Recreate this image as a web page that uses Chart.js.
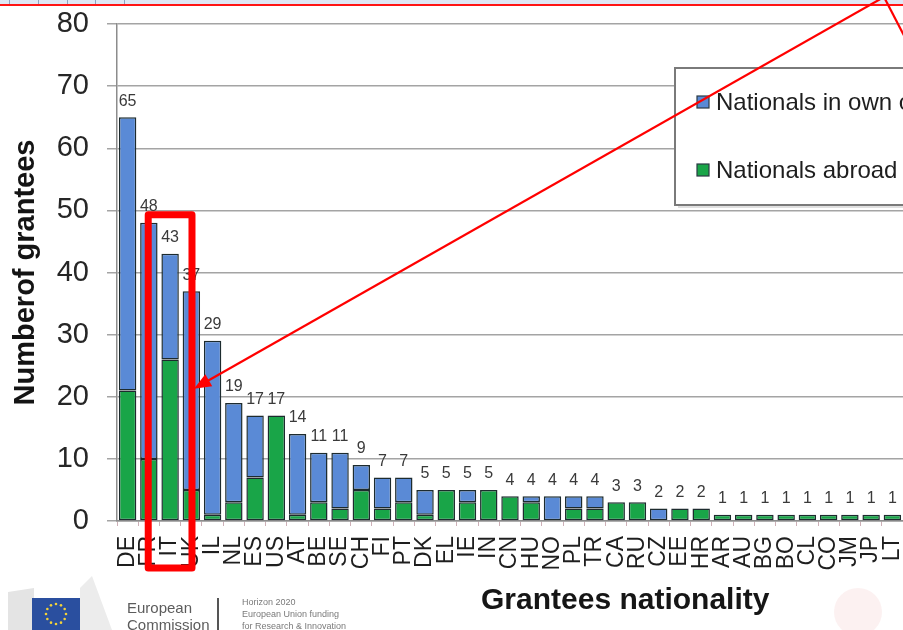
<!DOCTYPE html>
<html>
<head>
<meta charset="utf-8">
<script src="https://cdn.jsdelivr.net/npm/chart.js@4"></script>
<style>
  html, body { margin: 0; padding: 0; background: #ffffff; overflow: hidden; }
  #wrap { position: relative; width: 903px; height: 630px; }
</style>
</head>
<body>
<div id="wrap"><canvas id="chart" width="903" height="630"></canvas></div>
<script>
// Grantees per nationality, split by where they hold the grant
const countries = ['DE','FR','IT','UK','IL','NL','ES','US','AT','BE','SE','CH','FI','PT','DK','EL','IE','IN','CN','HU','NO','PL','TR','CA','RU','CZ','EE','HR','AR','AU','BG','BO','CL','CO','JM','JP','LT'];
const nationalsAbroad = [21,10,26,5,1,3,7,17,1,3,2,5,2,3,1,5,3,5,4,3,0,2,2,3,3,0,2,2,1,1,1,1,1,1,1,1,1];
const nationalsOwnCountry = [44,38,17,32,28,16,10,0,13,8,9,4,5,4,4,0,2,0,0,1,4,2,2,0,0,2,0,0,0,0,0,0,0,0,0,0,0];
const yTicks = [0,10,20,30,40,50,60,70,80];
const seriesOwn = 'Nationals in own country';
const seriesAbroad = 'Nationals abroad';
const highlighted = 'IT';

const FONT = "'Liberation Sans', Arial, Helvetica, sans-serif";
const BLUE = '#5a8ad6';
const GREEN = '#19a548';
const EDGE = '#1d2b2e';

// Total per country, printed above each stacked column
const totalsPlugin = {
  id: 'totals',
  afterDatasetsDraw(chart) {
    const ctx = chart.ctx, x = chart.scales.x, y = chart.scales.y;
    ctx.save();
    ctx.font = '16px ' + FONT;
    ctx.fillStyle = '#3a3a3a';
    ctx.textAlign = 'center';
    ctx.textBaseline = 'bottom';
    countries.forEach((c, i) => {
      const total = nationalsAbroad[i] + nationalsOwnCountry[i];
      ctx.fillText(String(total), x.getPixelForValue(i), y.getPixelForValue(total) - 8);
    });
    ctx.restore();
  }
};

// Boxed legend, axis title, footer branding and the red call-out
const decorPlugin = {
  id: 'decor',
  afterDraw(chart) {
    const ctx = chart.ctx, ca = chart.chartArea, x = chart.scales.x, y = chart.scales.y;
    ctx.save();

    // legend box inside the plot
    const lx = ca.left + 558, ly = ca.top + 44, lw = 330, lh = 137;
    ctx.fillStyle = 'rgba(0,0,0,0.12)';
    ctx.fillRect(lx + 3, ly + 3, lw, lh);
    ctx.fillStyle = '#ffffff';
    ctx.fillRect(lx, ly, lw, lh);
    ctx.strokeStyle = '#7a7a7a';
    ctx.lineWidth = 2;
    ctx.strokeRect(lx, ly, lw, lh);
    const items = [[seriesOwn, BLUE], [seriesAbroad, GREEN]];
    ctx.font = '24px ' + FONT;
    ctx.textBaseline = 'middle';
    ctx.textAlign = 'left';
    items.forEach((it, k) => {
      const cy = ly + 34 + k * 68;
      ctx.fillStyle = it[1];
      ctx.fillRect(lx + 22, cy - 6, 12, 12);
      ctx.strokeStyle = '#2a3a44';
      ctx.lineWidth = 1.2;
      ctx.strokeRect(lx + 22, cy - 6, 12, 12);
      ctx.fillStyle = '#1e1e1e';
      ctx.fillText(it[0], lx + 41, cy + 1);
    });

    // x-axis title
    ctx.font = 'bold 30px ' + FONT;
    ctx.fillStyle = '#161616';
    ctx.textBaseline = 'alphabetic';
    ctx.fillText('Grantees nationality', ca.left + 364, 609);

    // footer: building, flag and programme text
    ctx.fillStyle = '#e4e4e4';
    ctx.beginPath();
    ctx.moveTo(8, 630); ctx.lineTo(8, 592); ctx.lineTo(34, 588); ctx.lineTo(34, 630); ctx.closePath();
    ctx.fill();
    ctx.fillStyle = '#ececec';
    ctx.beginPath();
    ctx.moveTo(80, 630); ctx.lineTo(80, 588); ctx.lineTo(92, 576); ctx.lineTo(112, 630); ctx.closePath();
    ctx.fill();
    ctx.fillStyle = '#2a4f9f';
    ctx.fillRect(32, 598, 48, 32);
    ctx.fillStyle = '#f2d23a';
    for (let s = 0; s < 12; s++) {
      const a = s * Math.PI / 6;
      ctx.beginPath();
      ctx.arc(56 + 10 * Math.cos(a), 614 + 10 * Math.sin(a), 1.3, 0, Math.PI * 2);
      ctx.fill();
    }
    ctx.fillStyle = '#5c5c5c';
    ctx.font = '15px ' + FONT;
    ctx.fillText('European', 127, 613);
    ctx.fillText('Commission', 127, 630);
    ctx.fillStyle = '#555555';
    ctx.fillRect(217, 598, 2, 32);
    ctx.fillStyle = '#7a7a7a';
    ctx.font = '9px ' + FONT;
    ctx.fillText('Horizon 2020', 242, 605);
    ctx.fillText('European Union funding', 242, 617);
    ctx.fillText('for Research & Innovation', 242, 629);

    // faint background blob in the corner
    ctx.fillStyle = 'rgba(245,215,215,0.35)';
    ctx.beginPath(); ctx.arc(858, 612, 24, 0, Math.PI * 2); ctx.fill();

    // top frame strip
    ctx.fillStyle = '#dfe7f4';
    ctx.fillRect(0, 0, chart.width, 4);
    ctx.strokeStyle = '#8fa2bf';
    ctx.lineWidth = 1;
    [9, 38, 67, 95, 124].forEach(v => {
      ctx.beginPath(); ctx.moveTo(v + 0.5, 0); ctx.lineTo(v + 0.5, 4); ctx.stroke();
    });
    ctx.strokeStyle = '#ff1414';
    ctx.lineWidth = 2;
    ctx.beginPath(); ctx.moveTo(0, 5); ctx.lineTo(chart.width, 5); ctx.stroke();

    // red call-out around the highlighted country
    const idx = countries.indexOf(highlighted);
    const cx = x.getPixelForValue(idx);
    const half = (ca.right - ca.left) / countries.length * 1.03;
    const total = nationalsAbroad[idx] + nationalsOwnCountry[idx];
    const top = y.getPixelForValue(total) - 39;
    const bottom = ca.bottom + 47;
    ctx.strokeStyle = '#ff0000';
    ctx.lineWidth = 7;
    ctx.lineJoin = 'round';
    ctx.strokeRect(cx - half, top, half * 2, bottom - top);

    // arrows coming in from the top-right
    const ox = 884, oy = -3;
    const tx = cx + half + 2, ty = y.getPixelForValue(21.3);
    const ang = Math.atan2(ty - oy, tx - ox);
    const hl = 17, hw = 7;
    ctx.lineWidth = 2.2;
    ctx.beginPath();
    ctx.moveTo(ox, oy);
    ctx.lineTo(tx - (hl - 2) * Math.cos(ang), ty - (hl - 2) * Math.sin(ang));
    ctx.stroke();
    ctx.fillStyle = '#ff0000';
    ctx.beginPath();
    ctx.moveTo(tx, ty);
    ctx.lineTo(tx - hl * Math.cos(ang) + hw * Math.sin(ang), ty - hl * Math.sin(ang) - hw * Math.cos(ang));
    ctx.lineTo(tx - hl * Math.cos(ang) - hw * Math.sin(ang), ty - hl * Math.sin(ang) + hw * Math.cos(ang));
    ctx.closePath();
    ctx.fill();
    ctx.beginPath();
    ctx.moveTo(ox, oy);
    ctx.lineTo(ox + 28, oy + 54);
    ctx.stroke();

    ctx.restore();
  }
};

new Chart(document.getElementById('chart'), {
  type: 'bar',
  data: {
    labels: countries,
    datasets: [
      {
        label: seriesAbroad,
        data: nationalsAbroad,
        backgroundColor: GREEN,
        borderColor: EDGE,
        borderWidth: 1.5,
        borderSkipped: false,
        categoryPercentage: 0.82,
        barPercentage: 1.0
      },
      {
        label: seriesOwn,
        data: nationalsOwnCountry,
        backgroundColor: BLUE,
        borderColor: EDGE,
        borderWidth: 1.5,
        borderSkipped: false,
        categoryPercentage: 0.82,
        barPercentage: 1.0
      }
    ]
  },
  options: {
    responsive: false,
    animation: false,
    devicePixelRatio: 1,
    layout: { padding: { top: 24, right: 0, bottom: 0, left: 0 } },
    plugins: { legend: { display: false }, tooltip: { enabled: false } },
    scales: {
      x: {
        stacked: true,
        offset: true,
        grid: { display: true, offset: true, drawOnChartArea: false, drawTicks: true, tickLength: 5, color: '#cdb0b7', lineWidth: 1 },
        border: { display: true, color: '#8c8c8c', width: 1.5 },
        ticks: { autoSkip: false, minRotation: 90, maxRotation: 90, padding: 10, color: '#1e1e1e', font: { family: FONT, size: 23 } },
        afterFit: s => { s.height = 109; s.paddingLeft = 0; s.paddingRight = 0; }
      },
      y: {
        stacked: true,
        min: 0,
        max: 80,
        afterBuildTicks: s => { s.ticks = yTicks.map(v => ({ value: v })); },
        grid: { color: '#a4a4a4', lineWidth: 1.5, tickLength: 10 },
        border: { display: true, color: '#8c8c8c', width: 1.5 },
        ticks: { padding: 18, color: '#262626', font: { family: FONT, size: 29 } },
        title: { display: true, text: 'Numberof grantees', color: '#141414', font: { family: FONT, size: 29, weight: 'bold' }, padding: { top: 9, bottom: 0 } },
        afterFit: s => { s.width = 117; s.paddingTop = 0; s.paddingBottom = 0; }
      }
    }
  },
  plugins: [totalsPlugin, decorPlugin]
});
</script>
</body>
</html>
